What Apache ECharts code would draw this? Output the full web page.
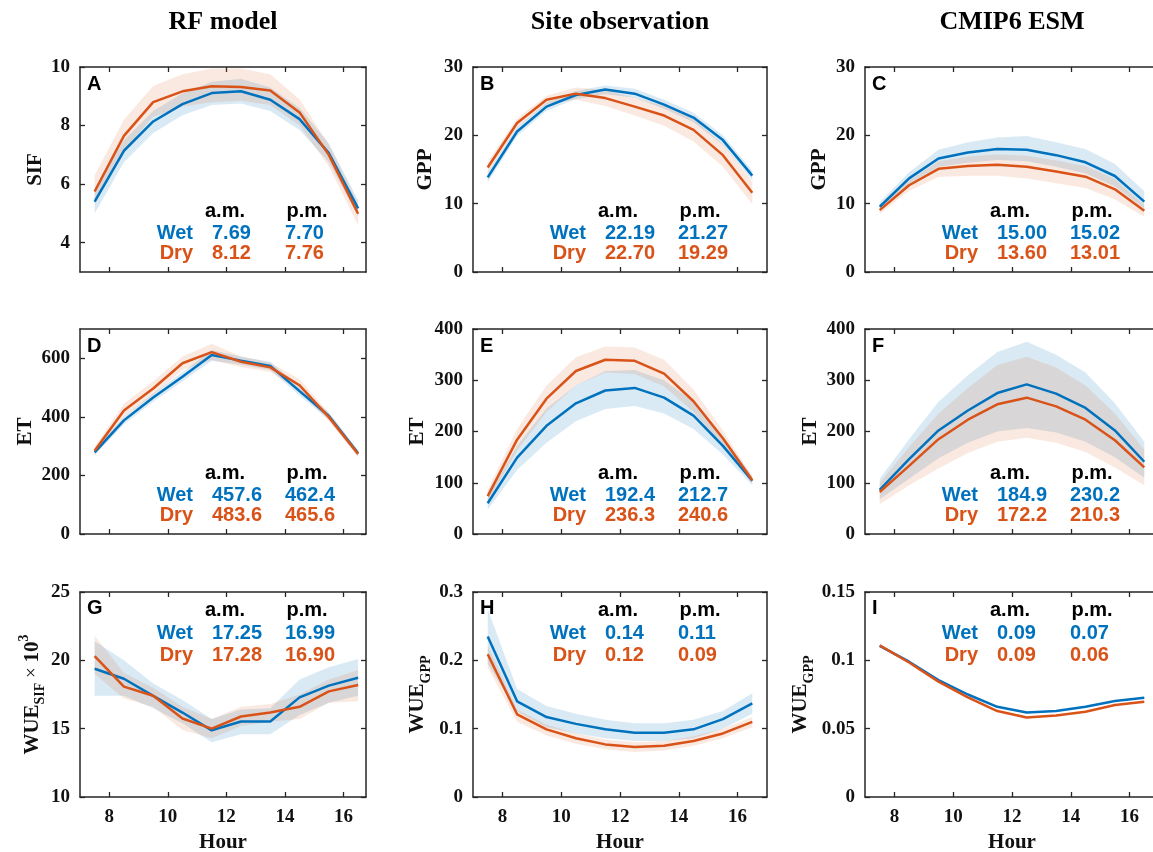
<!DOCTYPE html>
<html><head><meta charset="utf-8">
<script src="https://cdn.jsdelivr.net/npm/echarts@6/dist/echarts.min.js"></script>
<style>html,body{margin:0;padding:0;background:#fff}#c{width:1153px;height:852px}</style>
</head><body><div id="c"></div>
<script>
// ---------------- data ----------------
const hours = [7.5, 8.5, 9.5, 10.5, 11.5, 12.5, 13.5, 14.5, 15.5, 16.5];
const hourTicks = [8, 10, 12, 14, 16];
const columnTitles = ['RF model', 'Site observation', 'CMIP6 ESM'];
const panelLetters = ['A', 'B', 'C', 'D', 'E', 'F', 'G', 'H', 'I'];

// A: RF model SIF
const sifWetRF   = [5.40, 7.14, 8.14, 8.73, 9.11, 9.17, 8.88, 8.22, 7.06, 5.17];
const sifWetRFLo = [5.00, 6.75, 7.75, 8.35, 8.70, 8.75, 8.50, 7.85, 6.75, 4.90];
const sifWetRFHi = [5.80, 7.50, 8.50, 9.10, 9.50, 9.60, 9.30, 8.60, 7.40, 5.45];
const sifDryRF   = [5.75, 7.65, 8.80, 9.17, 9.34, 9.32, 9.20, 8.45, 7.00, 4.99];
const sifDryRFLo = [5.30, 7.15, 8.30, 8.65, 8.80, 8.85, 8.70, 8.00, 6.60, 4.60];
const sifDryRFHi = [6.30, 8.20, 9.35, 9.75, 9.95, 9.95, 9.75, 8.90, 7.35, 5.35];
const statsA = [['7.69', '7.70'], ['8.12', '7.76']];

// B: Site observation GPP
const gppWetSite   = [13.85, 20.56, 24.2, 25.9, 26.7, 26.1, 24.5, 22.6, 19.3, 14.1];
const gppWetSiteLo = [13.1, 19.9, 23.6, 25.3, 26.0, 25.5, 23.9, 21.9, 18.6, 13.4];
const gppWetSiteHi = [14.6, 21.2, 24.8, 26.5, 27.3, 26.8, 25.2, 23.3, 20.0, 14.8];
const gppDrySite   = [15.3, 21.8, 25.2, 26.1, 25.45, 24.2, 22.9, 20.8, 17.1, 11.6];
const gppDrySiteLo = [14.5, 21.1, 24.6, 25.2, 24.3, 22.9, 21.4, 19.1, 15.4, 9.9];
const gppDrySiteHi = [16.1, 22.5, 25.8, 27.0, 26.6, 25.5, 24.3, 22.4, 18.7, 13.2];
const statsB = [['22.19', '21.27'], ['22.70', '19.29']];

// C: CMIP6 ESM GPP
const gppWetESM   = [9.55, 13.7, 16.6, 17.5, 18.0, 17.9, 17.1, 16.05, 14.05, 10.3];
const gppWetESMLo = [9.0, 12.9, 15.4, 16.0, 16.4, 16.2, 15.4, 14.4, 12.5, 9.3];
const gppWetESMHi = [10.2, 14.6, 17.9, 19.0, 19.7, 19.9, 19.0, 18.0, 15.8, 11.8];
const gppDryESM   = [9.05, 12.7, 15.1, 15.5, 15.7, 15.4, 14.7, 13.95, 12.1, 8.95];
const gppDryESMLo = [8.5, 11.9, 13.9, 14.1, 14.1, 13.7, 13.0, 12.3, 10.6, 8.1];
const gppDryESMHi = [9.6, 13.4, 16.2, 16.9, 17.2, 17.0, 16.3, 15.5, 13.6, 9.8];
const statsC = [['15.00', '15.02'], ['13.60', '13.01']];

// D: RF model ET
const etWetRF   = [279, 388, 466, 537, 611, 592, 574, 488, 403, 276];
const etWetRFLo = [268, 375, 452, 522, 592, 578, 560, 473, 390, 265];
const etWetRFHi = [290, 400, 480, 552, 628, 606, 588, 502, 415, 287];
const etDryRF   = [284, 422, 497, 583, 621, 588, 569, 508, 399, 273];
const etDryRFLo = [270, 400, 475, 560, 594, 570, 553, 490, 385, 262];
const etDryRFHi = [298, 445, 522, 606, 650, 606, 585, 528, 414, 285];
const statsD = [['457.6', '462.4'], ['483.6', '465.6']];

// E: Site observation ET
const etWetSite   = [60, 149, 211, 255, 280, 285, 266, 231, 172, 104];
const etWetSiteLo = [48, 125, 178, 220, 244, 250, 235, 205, 155, 95];
const etWetSiteHi = [72, 172, 245, 290, 318, 320, 300, 258, 190, 113];
const etDrySite   = [74, 184, 264, 318, 340, 338, 313, 259, 187, 105];
const etDrySiteLo = [63, 163, 238, 290, 315, 312, 288, 238, 172, 98];
const etDrySiteHi = [86, 205, 290, 345, 366, 364, 340, 282, 202, 112];
const statsE = [['192.4', '212.7'], ['236.3', '240.6']];

// F: CMIP6 ESM ET
const etWetESM   = [86, 146, 202, 241, 275, 292, 274, 246, 202, 141];
const etWetESMLo = [68, 108, 148, 178, 200, 207, 198, 180, 150, 110];
const etWetESMHi = [108, 185, 258, 310, 355, 375, 350, 315, 255, 180];
const etDryESM   = [82, 133, 185, 223, 253, 266, 249, 223, 183, 130];
const etDryESMLo = [58, 95, 128, 158, 180, 188, 178, 160, 130, 95];
const etDryESMHi = [100, 170, 235, 285, 330, 346, 325, 290, 235, 165];
const statsF = [['184.9', '230.2'], ['172.2', '210.3']];

// G: RF model WUE_SIF x 10^3
const wueWetRF   = [19.38, 18.65, 17.4, 16.18, 14.88, 15.52, 15.52, 17.29, 18.15, 18.72];
const wueWetRFLo = [17.4, 17.4, 16.5, 15.4, 14.0, 14.6, 14.6, 16.0, 16.9, 17.4];
const wueWetRFHi = [21.4, 20.0, 18.3, 17.1, 15.7, 16.4, 16.5, 18.6, 19.5, 20.1];
const wueDryRF   = [20.3, 18.08, 17.41, 15.74, 15.0, 15.89, 16.18, 16.6, 17.73, 18.2];
const wueDryRFLo = [19.0, 17.2, 16.6, 14.9, 14.3, 15.2, 15.5, 15.7, 16.9, 17.0];
const wueDryRFHi = [21.8, 19.1, 18.0, 16.6, 15.7, 16.6, 16.8, 17.5, 18.6, 19.3];
const statsG = [['17.25', '16.99'], ['17.28', '16.90']];

// H: Site observation WUE_GPP
const wueWetSite   = [0.235, 0.140, 0.117, 0.107, 0.099, 0.094, 0.094, 0.099, 0.114, 0.137];
const wueWetSiteLo = [0.195, 0.125, 0.102, 0.093, 0.086, 0.082, 0.082, 0.086, 0.100, 0.122];
const wueWetSiteHi = [0.275, 0.158, 0.133, 0.122, 0.113, 0.108, 0.108, 0.113, 0.126, 0.152];
const wueDrySite   = [0.209, 0.121, 0.099, 0.086, 0.077, 0.073, 0.075, 0.082, 0.093, 0.110];
const wueDrySiteLo = [0.190, 0.110, 0.090, 0.078, 0.070, 0.066, 0.068, 0.075, 0.086, 0.102];
const wueDrySiteHi = [0.222, 0.128, 0.106, 0.093, 0.084, 0.080, 0.082, 0.089, 0.100, 0.117];
const statsH = [['0.14', '0.11'], ['0.12', '0.09']];

// I: CMIP6 ESM WUE_GPP
const wueWetESM = [0.1106, 0.0990, 0.0856, 0.0750, 0.0660, 0.0619, 0.0630, 0.0660, 0.0702, 0.0727];
const wueDryESM = [0.1110, 0.0984, 0.0844, 0.0729, 0.0629, 0.0582, 0.0597, 0.0624, 0.0673, 0.0697];
const statsI = [['0.09', '0.07'], ['0.09', '0.06']];

// axis ranges / ticks
const yRangeA = [3, 10],  yTicksA = [4, 6, 8, 10];
const yRangeB = [0, 30],  yTicksB = [0, 10, 20, 30];
const yRangeC = [0, 30],  yTicksC = [0, 10, 20, 30];
const yRangeD = [0, 700], yTicksD = [0, 200, 400, 600];
const yRangeE = [0, 400], yTicksE = [0, 100, 200, 300, 400];
const yRangeF = [0, 400], yTicksF = [0, 100, 200, 300, 400];
const yRangeG = [10, 25], yTicksG = [10, 15, 20, 25];
const yRangeH = [0, 0.3], yTicksH = [0, 0.1, 0.2, 0.3];
const yRangeI = [0, 0.15], yTicksI = [0, 0.05, 0.1, 0.15];
const xRangeByColumn = [[7, 16.77], [7, 17], [7, 17]];

// ---------------- panel table ----------------
const panels = [
  {wet: sifWetRF, wetLo: sifWetRFLo, wetHi: sifWetRFHi, dry: sifDryRF, dryLo: sifDryRFLo, dryHi: sifDryRFHi, stats: statsA, yr: yRangeA, yt: yTicksA, name: 'SIF', gap: 34},
  {wet: gppWetSite, wetLo: gppWetSiteLo, wetHi: gppWetSiteHi, dry: gppDrySite, dryLo: gppDrySiteLo, dryHi: gppDrySiteHi, stats: statsB, yr: yRangeB, yt: yTicksB, name: 'GPP', gap: 37},
  {wet: gppWetESM, wetLo: gppWetESMLo, wetHi: gppWetESMHi, dry: gppDryESM, dryLo: gppDryESMLo, dryHi: gppDryESMHi, stats: statsC, yr: yRangeC, yt: yTicksC, name: 'GPP', gap: 35},
  {wet: etWetRF, wetLo: etWetRFLo, wetHi: etWetRFHi, dry: etDryRF, dryLo: etDryRFLo, dryHi: etDryRFHi, stats: statsD, yr: yRangeD, yt: yTicksD, name: 'ET', gap: 44},
  {wet: etWetSite, wetLo: etWetSiteLo, wetHi: etWetSiteHi, dry: etDrySite, dryLo: etDrySiteLo, dryHi: etDrySiteHi, stats: statsE, yr: yRangeE, yt: yTicksE, name: 'ET', gap: 45},
  {wet: etWetESM, wetLo: etWetESMLo, wetHi: etWetESMHi, dry: etDryESM, dryLo: etDryESMLo, dryHi: etDryESMHi, stats: statsF, yr: yRangeF, yt: yTicksF, name: 'ET', gap: 44},
  {wet: wueWetRF, wetLo: wueWetRFLo, wetHi: wueWetRFHi, dry: wueDryRF, dryLo: wueDryRFLo, dryHi: wueDryRFHi, stats: statsG, yr: yRangeG, yt: yTicksG, name: '{m|WUE}{s|SIF}{x| × }{m|10}{p|3}', gap: 32},
  {wet: wueWetSite, wetLo: wueWetSiteLo, wetHi: wueWetSiteHi, dry: wueDrySite, dryLo: wueDrySiteLo, dryHi: wueDrySiteHi, stats: statsH, yr: yRangeH, yt: yTicksH, name: '{m|WUE}{s|GPP}', gap: 40},
  {wet: wueWetESM, wetLo: null, wetHi: null, dry: wueDryESM, dryLo: null, dryHi: null, stats: statsI, yr: yRangeI, yt: yTicksI, name: '{m|WUE}{s|GPP}', gap: 49}
];

// ---------------- layout / style ----------------
const colLeft = [80, 473, 865];
const colWidth = [286, 294, 294];
const rowTop = [67, 329, 592];
const rowHeight = 205;
const BLUE = '#0072BD', ORANGE = '#D95319';
const BLUE_FILL = 'rgba(0,114,189,0.15)', ORANGE_FILL = 'rgba(217,83,25,0.13)';
const AXIS = '#262626';
const SERIF = '"Liberation Serif", "Times New Roman", serif';
const SANS = '"Liberation Sans", Arial, sans-serif';

const nameRich = {
  m: {fontFamily: SERIF, fontWeight: 'bold', fontSize: 21, color: '#111', verticalAlign: 'middle', lineHeight: 30},
  s: {fontFamily: SERIF, fontWeight: 'bold', fontSize: 14, color: '#111', verticalAlign: 'bottom', lineHeight: 30},
  p: {fontFamily: SERIF, fontWeight: 'bold', fontSize: 14, color: '#111', verticalAlign: 'top', lineHeight: 30},
  x: {fontFamily: SERIF, fontWeight: 'normal', fontSize: 19, color: '#111', verticalAlign: 'middle', lineHeight: 30}
};

const grids = [], xAxes = [], yAxes = [], series = [], graphics = [];

function bandSeries(gi, lo, hi, fill) {
  return {
    type: 'custom', xAxisIndex: 2 * gi, yAxisIndex: 2 * gi, silent: true, z: 1,
    data: hours.map((h, k) => [h, lo[k], hi[k]]),
    encode: {x: 0, y: [1, 2]},
    renderItem: function (params, api) {
      if (params.dataIndex !== 0) return null;
      const pts = [];
      for (let k = 0; k < hours.length; k++) pts.push(api.coord([hours[k], hi[k]]));
      for (let k = hours.length - 1; k >= 0; k--) pts.push(api.coord([hours[k], lo[k]]));
      return {type: 'polygon', shape: {points: pts}, style: {fill: fill, stroke: null}};
    }
  };
}

function txt(x, y, text, font, fill, align, valign) {
  graphics.push({type: 'text', x: x, y: y, silent: true, z: 100,
    style: {text: text, font: font, fill: fill, align: align, verticalAlign: valign, textAlign: align, textVerticalAlign: valign}});
}

panels.forEach((p, i) => {
  const row = Math.floor(i / 3), col = i % 3;
  const L = colLeft[col], T = rowTop[row], W = colWidth[col];
  grids.push({left: L, top: T, width: W, height: rowHeight, containLabel: false, outerBoundsMode: 'none'});
  const xr = xRangeByColumn[col];
  const tickFont = {fontFamily: SERIF, fontWeight: 'bold', fontSize: 19, color: '#111'};
  const lineSty = {color: AXIS, width: 1.5};
  ['bottom', 'top'].forEach((pos) => {
    const main = pos === 'bottom';
    xAxes.push({
      gridIndex: i, type: 'value', position: pos, min: xr[0], max: xr[1],
      axisLine: {show: true, onZero: false, lineStyle: lineSty},
      axisTick: {show: true, inside: true, length: 5, customValues: hourTicks, lineStyle: {color: AXIS, width: 1.3}},
      axisLabel: Object.assign({show: main && row === 2, customValues: hourTicks, margin: 11}, tickFont),
      splitLine: {show: false},
      name: main && row === 2 ? 'Hour' : '', nameLocation: 'middle', nameGap: 35,
      nameTextStyle: {fontFamily: SERIF, fontWeight: 'bold', fontSize: 21, color: '#111'}
    });
  });
  ['left', 'right'].forEach((pos) => {
    const main = pos === 'left';
    yAxes.push({
      gridIndex: i, type: 'value', position: pos, min: p.yr[0], max: p.yr[1],
      axisLine: {show: true, onZero: false, lineStyle: lineSty},
      axisTick: {show: true, inside: true, length: 5, customValues: p.yt, lineStyle: {color: AXIS, width: 1.3}},
      axisLabel: Object.assign({show: main, customValues: p.yt, margin: 10}, tickFont),
      splitLine: {show: false},
      name: main ? p.name : '', nameLocation: 'middle', nameGap: p.gap,
      nameTextStyle: {fontFamily: SERIF, fontWeight: 'bold', fontSize: 21, color: '#111', rich: nameRich}
    });
  });
  if (p.wetLo) series.push(bandSeries(i, p.wetLo, p.wetHi, BLUE_FILL));
  if (p.dryLo) series.push(bandSeries(i, p.dryLo, p.dryHi, ORANGE_FILL));
  series.push({type: 'line', xAxisIndex: 2 * i, yAxisIndex: 2 * i, z: 3, silent: true, showSymbol: false,
    data: hours.map((h, k) => [h, p.wet[k]]), lineStyle: {color: BLUE, width: 2.5}, itemStyle: {color: BLUE}});
  series.push({type: 'line', xAxisIndex: 2 * i, yAxisIndex: 2 * i, z: 4, silent: true, showSymbol: false,
    data: hours.map((h, k) => [h, p.dry[k]]), lineStyle: {color: ORANGE, width: 2.5}, itemStyle: {color: ORANGE}});

  // panel letter
  txt(L + 7, T + (row === 2 ? 16 : 17), panelLetters[i], 'bold 20px ' + SANS, '#000', 'left', 'middle');
  // stats block
  const oy = row === 2 ? [18, 41, 63] : [144, 166, 186];
  const f = 'bold 20px ' + SANS;
  txt(L + 145, T + oy[0], 'a.m.', f, '#000', 'center', 'middle');
  txt(L + 227, T + oy[0], 'p.m.', f, '#000', 'center', 'middle');
  txt(L + 113, T + oy[1], 'Wet', f, BLUE, 'right', 'middle');
  txt(L + 113, T + oy[2], 'Dry', f, ORANGE, 'right', 'middle');
  txt(L + 132, T + oy[1], p.stats[0][0], f, BLUE, 'left', 'middle');
  txt(L + 205, T + oy[1], p.stats[0][1], f, BLUE, 'left', 'middle');
  txt(L + 132, T + oy[2], p.stats[1][0], f, ORANGE, 'left', 'middle');
  txt(L + 205, T + oy[2], p.stats[1][1], f, ORANGE, 'left', 'middle');
});

// column titles
columnTitles.forEach((t, c) => {
  txt(colLeft[c] + colWidth[c] / 2, 22, t, 'bold 26px ' + SERIF, '#000', 'center', 'middle');
});

const chart = echarts.init(document.getElementById('c'), null, {renderer: 'canvas'});
chart.setOption({
  backgroundColor: '#fff',
  animation: false,
  grid: grids, xAxis: xAxes, yAxis: yAxes, series: series, graphic: graphics
});
</script>
</body></html>
